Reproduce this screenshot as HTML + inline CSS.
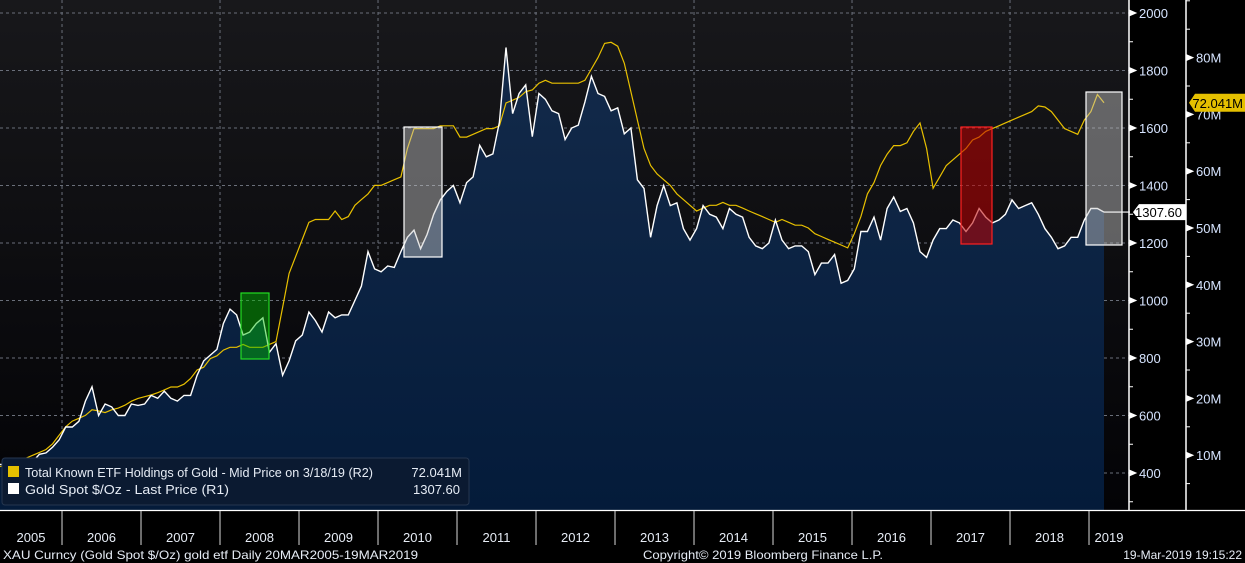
<!DOCTYPE html>
<html><head><meta charset="utf-8"><style>
html,body{margin:0;padding:0;background:#000;width:1245px;height:563px;overflow:hidden}
svg{display:block;font-family:"Liberation Sans",sans-serif}
</style></head><body>
<svg id="chart" width="1245" height="563" viewBox="0 0 1245 563">
<defs>
<linearGradient id="bg" x1="0" y1="0" x2="0" y2="1"><stop offset="0" stop-color="#18181b"/><stop offset="1" stop-color="#030306"/></linearGradient>
<linearGradient id="fillg" x1="0" y1="0" x2="0" y2="1"><stop offset="0" stop-color="#132a4a"/><stop offset="1" stop-color="#041b3a"/></linearGradient>
</defs>
<rect x="0" y="0" width="1129" height="510" fill="url(#bg)"/>
<g id="grid"></g>
<path id="area" fill="url(#fillg)"/>
<polyline id="etfLine" fill="none" stroke="#e8c000" stroke-width="1.2"/>
<polyline id="goldLine" fill="none" stroke="#ffffff" stroke-width="1.4"/>
<rect x="241" y="293" width="28" height="66" fill="rgba(0,190,0,0.45)" stroke="#22dd22" stroke-width="1.2"/>
<rect x="404" y="127" width="38" height="130" fill="rgba(200,200,200,0.45)" stroke="#ffffff" stroke-width="1.2"/>
<rect x="961" y="127" width="31" height="117" fill="rgba(190,0,0,0.55)" stroke="#ff2020" stroke-width="1.2"/>
<rect x="1086" y="92" width="36" height="153" fill="rgba(200,200,200,0.45)" stroke="#ffffff" stroke-width="1.2"/>
<g id="axes"></g>
<g>
<rect x="2" y="458" width="467" height="47" rx="3" fill="#0b1a31" stroke="#26364f"/>
<rect x="8" y="466" width="11" height="11" fill="#e5c000"/>
<text x="25" y="477" font-size="13" fill="#e6ecf5" textLength="348" lengthAdjust="spacingAndGlyphs">Total Known ETF Holdings of Gold - Mid Price on 3/18/19 (R2)</text>
<text x="462" y="477" font-size="13" fill="#e6ecf5" text-anchor="end">72.041M</text>
<rect x="8" y="483" width="11" height="11" fill="#ffffff"/>
<text x="25" y="494" font-size="13" fill="#e6ecf5" textLength="204" lengthAdjust="spacingAndGlyphs">Gold Spot $/Oz - Last Price (R1)</text>
<text x="460" y="494" font-size="13" fill="#e6ecf5" text-anchor="end">1307.60</text>
</g>
<text x="3" y="559" font-size="12" fill="#e6ecf5" textLength="415" lengthAdjust="spacingAndGlyphs">XAU Curncy (Gold Spot  $/Oz) gold etf  Daily 20MAR2005-19MAR2019</text>
<text x="643" y="559" font-size="12" fill="#e6ecf5" textLength="240" lengthAdjust="spacingAndGlyphs">Copyright© 2019 Bloomberg Finance L.P.</text>
<text x="1242" y="559" font-size="12" fill="#e6ecf5" text-anchor="end">19-Mar-2019 19:15:22</text>
</svg>
<script>
const years=["2005","2006","2007","2008","2009","2010","2011","2012","2013","2014","2015","2016","2017","2018","2019"];
const r1Ticks=[400,600,800,1000,1200,1400,1600,1800,2000];
const r2Ticks=[10,20,30,40,50,60,70,80];
const goldPrice=[430,430,420,435,425,440,465,470,490,515,
560,560,580,650,700,600,640,630,600,600,640,635,
640,670,660,685,660,650,670,670,740,790,810,830,
920,970,950,880,890,920,940,820,850,740,790,860,
880,960,930,890,960,940,950,950,1000,1050,1170,1110,
1100,1120,1115,1170,1220,1245,1180,1230,1300,1350,1380,1400,
1340,1410,1430,1540,1500,1510,1620,1880,1650,1720,1750,1570,
1720,1700,1660,1650,1560,1600,1610,1690,1780,1720,1710,1660,
1670,1580,1600,1420,1390,1220,1330,1400,1330,1340,1250,1210,
1250,1330,1300,1290,1250,1320,1300,1290,1220,1190,1180,1200,
1280,1210,1180,1190,1190,1170,1090,1130,1130,1160,1060,1070,
1110,1240,1240,1290,1210,1320,1360,1310,1320,1270,1170,1150,
1210,1250,1250,1280,1270,1240,1270,1320,1290,1270,1280,1300,
1350,1320,1330,1340,1300,1250,1220,1180,1190,1220,1220,1280,
1320,1320,1307.6];
const etfHoldings=[8,8.3,8.6,9,9.5,10,10.5,11,12,13.5,
15,16,16.5,17,18,17.8,17.5,18,18.3,18.8,19.5,20,
20.3,20.6,21,21.5,22,22,22.5,23.5,25,25.5,27,27.5,
28.5,29,29,29.5,29,29,29,29.5,30,36,42,45,
48,51,51.5,51.5,51.5,53,51.5,52,54,55,56,57.5,
57.5,58,58.5,59,64,67.5,67.5,67.5,67.5,68,68,68,
66,66,66.5,67,67.5,67.5,68,72,72.5,73,74,74.3,
75.5,76,75.5,75.5,75.5,75.5,75.5,76,78,80,82.5,82.7,
82,79,74,69,64,61,59.5,58.5,57.5,56,55,54,
53,53.5,54,54,54.5,54,54,53.5,53,52.5,52,51.5,
51,51.5,51,50.5,50.5,50,49,48.5,48,47.5,47,46.5,
49,52,56,58,61,63,64.5,64.5,65,67,68.5,64,
57,59,61,62,63,64,65.5,66,67,67.5,68,68.5,
69,69.5,70,70.5,71.5,71.3,70.5,69,67.5,67,66.5,69,
70.5,73.5,72.041];
const NS="http://www.w3.org/2000/svg";
const yR1=v=>13+(2000-v)/200*57.5;
const yR2=v=>512-v*5.68;
const xIdx=i=>i/(goldPrice.length-1)*1104;
const xYear=k=>(k+0.785)*79;
function mk(tag,attrs,parent){const e=document.createElementNS(NS,tag);for(const k in attrs)e.setAttribute(k,attrs[k]);parent.appendChild(e);return e;}
const grid=document.getElementById('grid'),axes=document.getElementById('axes');
r1Ticks.forEach(v=>{const l=mk('line',{x1:0,x2:1129,y1:yR1(v),y2:yR1(v),stroke:'#6a6f7a','stroke-width':1,'stroke-dasharray':'3,3'},grid);

});
for(let k=1;k<years.length;k+=2){const l=mk('line',{x1:xYear(k-1),x2:xYear(k-1),y1:0,y2:510,stroke:'#6a6f7a','stroke-width':1,'stroke-dasharray':'3,3'},grid);

}
let gp=[],ep=[];
goldPrice.forEach((v,i)=>gp.push(xIdx(i).toFixed(1)+','+yR1(v).toFixed(1)));
etfHoldings.forEach((v,i)=>ep.push(xIdx(i).toFixed(1)+','+yR2(v).toFixed(1)));
document.getElementById('goldLine').setAttribute('points',gp.join(' '));
document.getElementById('etfLine').setAttribute('points',ep.join(' '));
document.getElementById('area').setAttribute('d','M0,510 L'+gp.join(' L')+' L'+xIdx(goldPrice.length-1)+',510 Z');
const lastG=goldPrice[goldPrice.length-1],lastE=etfHoldings[etfHoldings.length-1];
const ext=mk('line',{x1:xIdx(goldPrice.length-1),x2:1130,y1:yR1(lastG),y2:yR1(lastG),stroke:'#fff','stroke-width':1.2},axes);


const a1=mk('line',{x1:1129,x2:1129,y1:0,y2:510,stroke:'#fff','stroke-width':1.5},axes);


const a2=mk('line',{x1:1186,x2:1186,y1:0,y2:510,stroke:'#fff','stroke-width':1.5},axes);


const a3=mk('line',{x1:0,x2:1245,y1:510.5,y2:510.5,stroke:'#fff','stroke-width':1.2},axes);


for(let v=300;v<=2100;v+=100){const y=yR1(v);if(y<0||y>510)continue;const major=r1Ticks.includes(v);
const t=mk('path',{d:major?`M1129,${y-3} L1136,${y} L1129,${y+3}Z`:`M1129,${y} L1133,${y}`,fill:'#fff',stroke:'#fff','stroke-width':1},axes);

}
r1Ticks.forEach(v=>{const t=mk('text',{x:1139,y:yR1(v)+5,'font-size':13,fill:'#d6e4ff'},axes);t.textContent=v;

});
for(let v=5;v<=90;v+=5){const y=yR2(v);if(y<0||y>510)continue;const major=r2Ticks.includes(v);
const t=mk('path',{d:major?`M1186,${y-3} L1193,${y} L1186,${y+3}Z`:`M1186,${y} L1190,${y}`,fill:'#fff',stroke:'#fff','stroke-width':1},axes);

}
r2Ticks.forEach(v=>{const t=mk('text',{x:1196,y:yR2(v)+5,'font-size':13,fill:'#d6e4ff'},axes);t.textContent=v+'M';

});
const yg=yR1(lastG);
const tg=mk('path',{d:`M1133,${yg} L1139,${yg-8} L1186,${yg-8} L1186,${yg+8} L1139,${yg+8}Z`,fill:'#fff'},axes);


const tgt=mk('text',{x:1182,y:yg+5,'font-size':13,fill:'#000','text-anchor':'end'},axes);tgt.textContent=lastG.toFixed(2);


const ye=yR2(lastE);
const te=mk('path',{d:`M1189,${ye} L1195,${ye-9} L1245,${ye-9} L1245,${ye+9} L1195,${ye+9}Z`,fill:'#e5c000'},axes);


const tet=mk('text',{x:1243,y:ye+5,'font-size':13,fill:'#000','text-anchor':'end'},axes);tet.textContent=lastE.toFixed(3)+'M';


years.forEach((yr,k)=>{const x0=k===0?0:xYear(k-1),x1=Math.min(xYear(k),1129);
if(k>0){const s=mk('line',{x1:x0,x2:x0,y1:511,y2:545,stroke:'#ddd','stroke-width':1},axes);

}
const t=mk('text',{x:(x0+x1)/2,y:542,'font-size':13,fill:'#e6ecf5','text-anchor':'middle'},axes);t.textContent=yr;

});
</script>
</body></html>
